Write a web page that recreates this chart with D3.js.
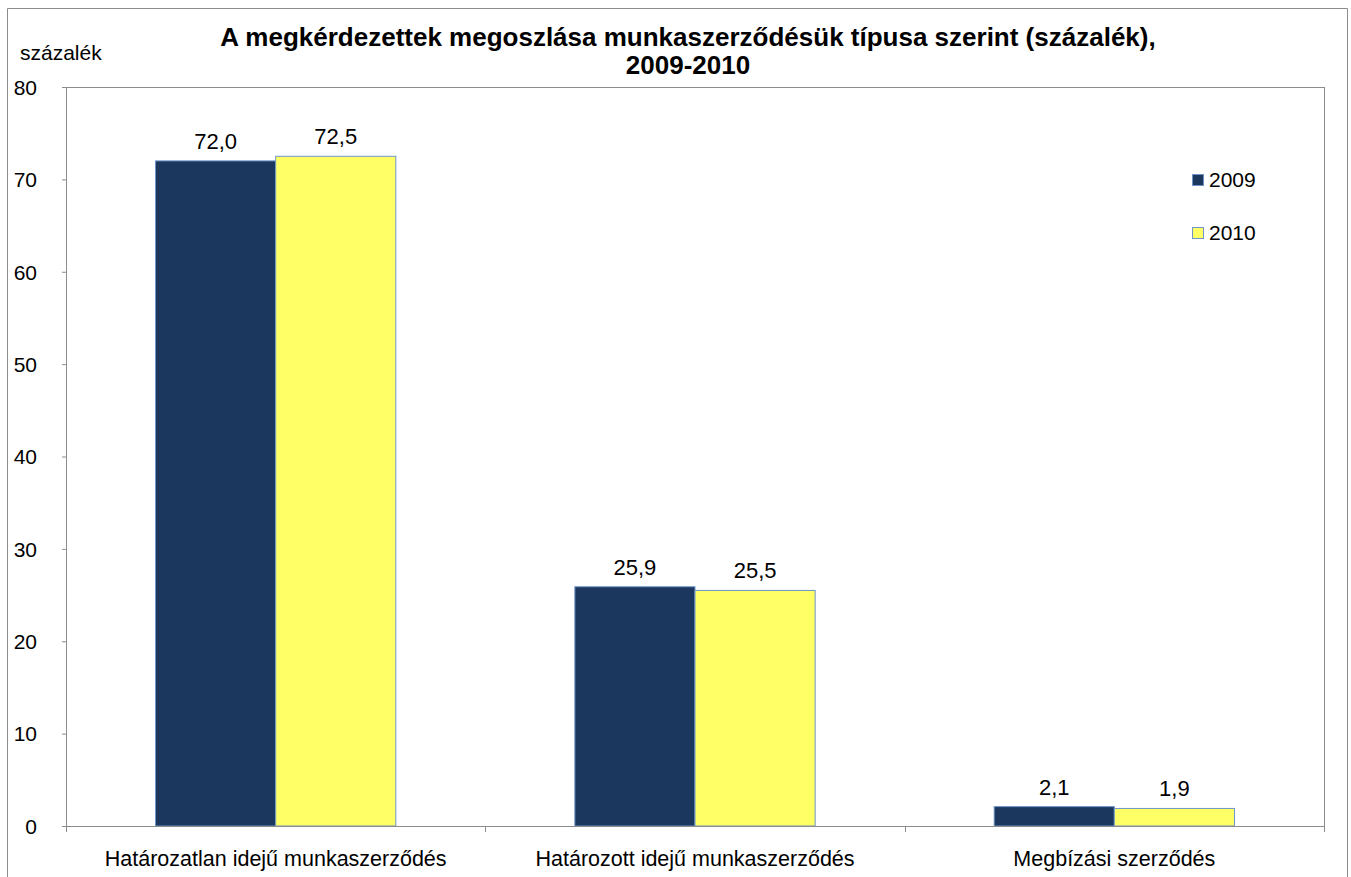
<!DOCTYPE html>
<html>
<head>
<meta charset="utf-8">
<script src="https://cdn.jsdelivr.net/npm/d3@7"></script>
<style>
  body { margin: 0; background: #fff; }
  text { font-family: "Liberation Sans", Arial, sans-serif; fill: #000; }
</style>
</head>
<body>
<svg id="chart" width="1351" height="877"></svg>
<script>
const categories = ["Határozatlan idejű munkaszerződés", "Határozott idejű munkaszerződés", "Megbízási szerződés"];
const years = ["2009", "2010"];
const values2009 = [72.0, 25.9, 2.1];
const values2010 = [72.5, 25.5, 1.9];
const yTicks = [0, 10, 20, 30, 40, 50, 60, 70, 80];

const colors = { "2009": "#1c375e", "2010": "#ffff66" };
const margin = { top: 87, right: 27, bottom: 51, left: 66 };
const width = 1351, height = 877;
const innerWidth = width - margin.left - margin.right;
const innerHeight = height - margin.top - margin.bottom;

const svg = d3.select("#chart");

// outer chart border
svg.append("path")
  .attr("d", "M7.5,877V8.5H1347.5V877")
  .attr("fill", "none").attr("stroke", "#8c8c8c").attr("stroke-width", 1);

const g = svg.append("g").attr("transform", `translate(${margin.left},${margin.top})`);

const xScale = d3.scaleBand().domain(categories).range([0, innerWidth]).paddingInner(0).paddingOuter(0);
const xInner = d3.scaleBand().domain(years).range([0, xScale.bandwidth()]).paddingInner(0).paddingOuter(0.745);
const yScale = d3.scaleLinear().domain([0, 80]).range([innerHeight, 0]);

// plot area border
g.append("rect")
  .attr("x", 0.5).attr("y", 0.5)
  .attr("width", innerWidth).attr("height", innerHeight)
  .attr("fill", "none").attr("stroke", "#8c8c8c");

const data = categories.map((c, i) => ({ cat: c, vals: [
  { year: "2009", v: values2009[i] },
  { year: "2010", v: values2010[i] }
]}));

const groups = g.selectAll(".grp").data(data).join("g")
  .attr("class", "grp")
  .attr("transform", d => `translate(${xScale(d.cat)},0)`);

groups.selectAll("rect").data(d => d.vals).join("rect")
  .attr("x", d => xInner(d.year))
  .attr("y", d => yScale(d.v))
  .attr("width", xInner.bandwidth())
  .attr("height", d => innerHeight - yScale(d.v))
  .attr("fill", d => colors[d.year])
  .attr("stroke", "#6f95c8")
  .attr("stroke-width", 1);

groups.selectAll(".lbl").data(d => d.vals).join("text")
  .attr("class", "lbl")
  .attr("x", d => xInner(d.year) + xInner.bandwidth() / 2)
  .attr("y", d => yScale(d.v) - 12)
  .attr("text-anchor", "middle")
  .style("font-size", "22px")
  .text(d => d3.format(".1f")(d.v).replace(".", ","));

// y axis
const leftAxis = d3.axisLeft(yScale).tickValues(yTicks).tickSize(4).tickPadding(25);
const yAx = g.append("g").attr("class", "axis-y").call(leftAxis);
yAx.select(".domain").attr("stroke", "#8c8c8c").attr("d", `M0.5,0V${innerHeight}`);
yAx.selectAll(".tick line").attr("stroke", "#8c8c8c");
yAx.selectAll("text").style("font-size", "21px").attr("dy", "0.35em");

// x axis
const bottomAxis = d3.axisBottom(xScale).tickSize(0).tickPadding(25);
const xAx = g.append("g").attr("class", "axis-x").attr("transform", `translate(0,${innerHeight})`).call(bottomAxis);
xAx.select(".domain").attr("stroke", "#8c8c8c").attr("d", `M0,0.5H${innerWidth}`);
xAx.selectAll("text").style("font-size", "21.5px").attr("dy", "0.71em");
// category separator ticks
g.append("g").selectAll("line")
  .data(d3.range(categories.length + 1))
  .join("line")
  .attr("x1", i => Math.round(i * xScale.step()) + 0.5)
  .attr("x2", i => Math.round(i * xScale.step()) + 0.5)
  .attr("y1", innerHeight).attr("y2", innerHeight + 6)
  .attr("stroke", "#8c8c8c");

// y unit label
svg.append("text").attr("x", 20).attr("y", 60)
  .style("font-size", "21px").text("százalék");

// title
const title = svg.append("text").attr("x", 688).attr("text-anchor", "middle")
  .style("font-size", "26px").style("font-weight", "bold");
title.append("tspan").attr("x", 688).attr("y", 46)
  .text("A megkérdezettek megoszlása munkaszerződésük típusa szerint (százalék),");
title.append("tspan").attr("x", 688).attr("y", 74).text("2009-2010");

// legend
const legend = svg.append("g").attr("transform", "translate(1192,180)");
const li = legend.selectAll("g").data(years).join("g")
  .attr("transform", (d, i) => `translate(0,${i * 53})`);
li.append("rect").attr("x", 0.5).attr("y", -5.5).attr("width", 11).attr("height", 11)
  .attr("fill", d => colors[d]).attr("stroke", "#6f95c8");
li.append("text").attr("x", 17).attr("y", 0).attr("dy", "0.35em")
  .style("font-size", "21px").text(d => d);
</script>
</body>
</html>
